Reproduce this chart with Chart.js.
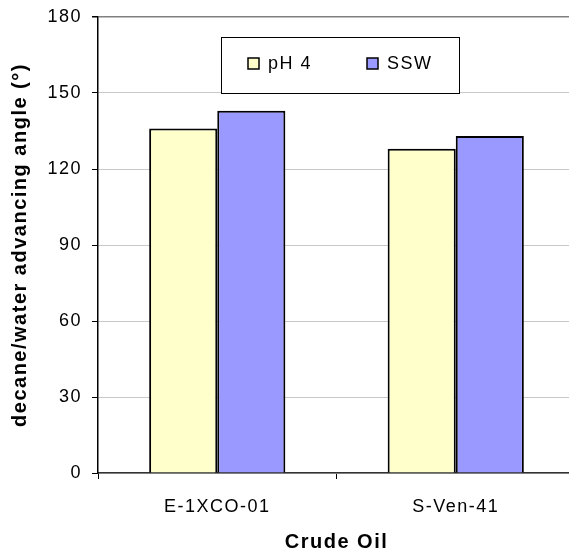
<!DOCTYPE html>
<html>
<head>
<meta charset="utf-8">
<script src="https://cdn.jsdelivr.net/npm/chart.js@4.4.1/dist/chart.umd.min.js"></script>
<style>
  html, body { margin: 0; padding: 0; background: #fff; overflow: hidden; }
  #wrap { position: relative; width: 575px; height: 560px; }
</style>
</head>
<body>
<div id="wrap"><canvas id="c"></canvas></div>
<script>
// Crude oils tested and the measured decane/water advancing angles (degrees)
const crudeOils = ['E-1XCO-01', 'S-Ven-41'];
const seriesNames = ['pH 4', 'SSW'];
const ph4Angles = [136, 128];
const sswAngles = [143, 133];
const yTicks = [0, 30, 60, 90, 120, 150, 180];

const FONT = "'Liberation Sans', Arial, sans-serif";
const SPACING = '1.5px';

// Slightly wider letter spacing for all chart text
const textSpacing = {
  id: 'textSpacing',
  beforeLayout(chart) { chart.ctx.letterSpacing = SPACING; },
  beforeDraw(chart) { chart.ctx.letterSpacing = SPACING; }
};

// Boxed legend drawn inside the plot area
const boxLegend = {
  id: 'boxLegend',
  afterDatasetsDraw(chart) {
    const ctx = chart.ctx;
    const x0 = 221, y0 = 37, w = 238, h = 56;
    ctx.save();
    ctx.fillStyle = '#ffffff';
    ctx.fillRect(x0, y0, w, h);
    ctx.strokeStyle = '#000000';
    ctx.lineWidth = 1;
    ctx.strokeRect(x0 + 0.5, y0 + 0.5, w, h);
    const markerX = [248, 367];
    ctx.font = '18px ' + FONT;
    ctx.textBaseline = 'middle';
    chart.data.datasets.forEach((ds, i) => {
      const mx = markerX[i], my = 58;
      ctx.fillStyle = ds.backgroundColor;
      ctx.fillRect(mx, my, 11, 11);
      ctx.strokeStyle = '#000';
      ctx.lineWidth = 1.5;
      ctx.strokeRect(mx, my, 11, 11);
      ctx.fillStyle = '#000';
      ctx.fillText(ds.label, mx + 20, my + 6);
    });
    ctx.restore();
  }
};

new Chart(document.getElementById('c'), {
  type: 'bar',
  data: {
    labels: crudeOils,
    datasets: [
      { label: seriesNames[0], data: ph4Angles, backgroundColor: '#FFFFCC', borderColor: '#000000', borderWidth: 2 },
      { label: seriesNames[1], data: sswAngles, backgroundColor: '#9999FF', borderColor: '#000000', borderWidth: 2 }
    ]
  },
  options: {
    responsive: true,
    maintainAspectRatio: false,
    animation: false,
    layout: { padding: { top: 17, right: 0, left: 0, bottom: 0 } },
    datasets: { bar: { categoryPercentage: 0.571, barPercentage: 1.0 } },
    plugins: { legend: { display: false }, tooltip: { enabled: false } },
    scales: {
      x: {
        offset: true,
        grid: { offset: true, drawOnChartArea: false, drawTicks: true, tickLength: 6, tickColor: '#000', lineWidth: 1 },
        border: { color: '#333333', width: 1.5 },
        ticks: { color: '#000', font: { family: FONT, size: 18 }, padding: 17 },
        title: { display: true, text: 'Crude Oil', color: '#000', font: { family: FONT, size: 20, weight: 'bold' }, padding: { top: 0, bottom: 6 } },
        afterFit(scale) { scale.height = 87; }
      },
      y: {
        min: 0,
        max: 180,
        afterBuildTicks(scale) { scale.ticks = yTicks.map(v => ({ value: v })); },
        grid: {
          color: (c) => (c.tick && c.tick.value === 180 ? '#808080' : '#c8c8c8'),
          lineWidth: (c) => (c.tick && c.tick.value === 180 ? 1.5 : 1),
          tickColor: '#000',
          tickLength: 6
        },
        border: { color: '#000', width: 1.5 },
        ticks: { color: '#000', font: { family: FONT, size: 18 }, padding: 10 },
        title: { display: true, text: 'decane/water advancing angle (°)', color: '#000', font: { family: FONT, size: 20, weight: 'bold' }, padding: { top: 8, bottom: 0 } },
        afterFit(scale) {
          scale.width = 98;
          scale.paddingTop = 0;
          scale.paddingBottom = 0;
        }
      }
    }
  },
  plugins: [textSpacing, boxLegend]
});
</script>
</body>
</html>
